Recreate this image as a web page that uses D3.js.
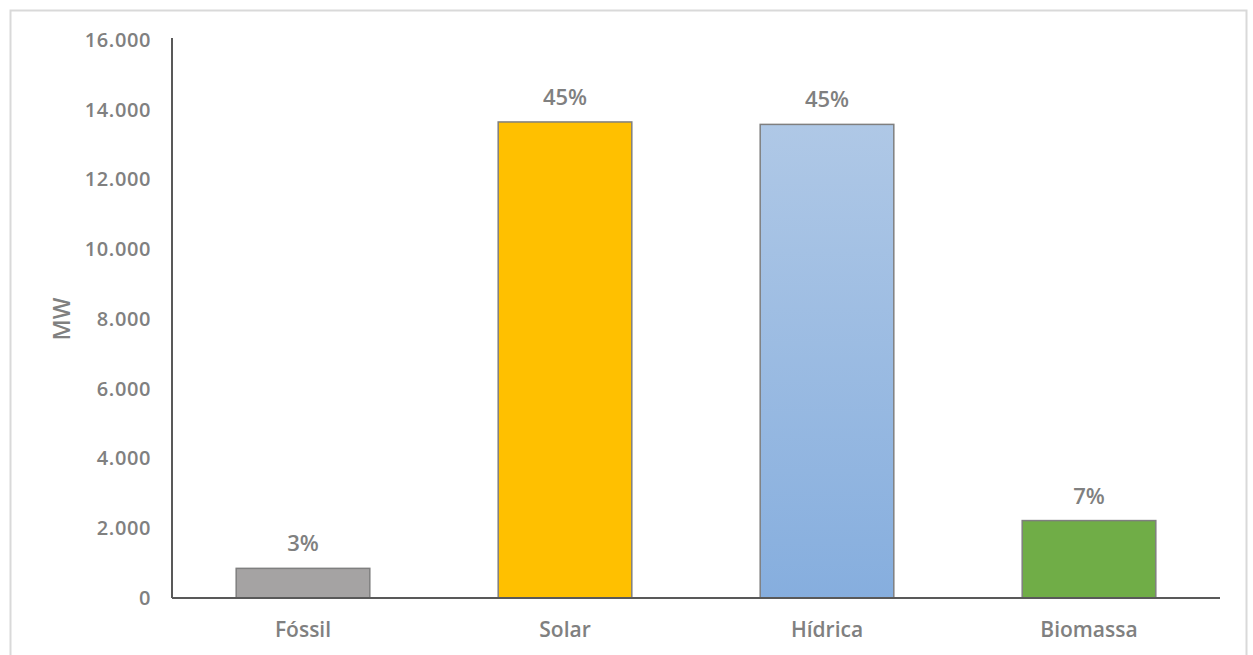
<!DOCTYPE html>
<html>
<head>
<meta charset="utf-8">
<script src="https://cdn.jsdelivr.net/npm/d3@7"></script>
<style>
  html, body { margin: 0; padding: 0; background: #fff; }
  svg { display: block; }
  text { font-family: "Open Sans", "Noto Sans", sans-serif; }
</style>
</head>
<body>
<svg id="chart" width="1253" height="655"></svg>
<script>
const categories = ["Fóssil", "Solar", "Hídrica", "Biomassa"];
const values = [850, 13650, 13580, 2220];
const shareLabels = ["3%", "45%", "45%", "7%"];
const yTicks = [0, 2000, 4000, 6000, 8000, 10000, 12000, 14000, 16000];
const yTickLabels = ["0", "2.000", "4.000", "6.000", "8.000", "10.000", "12.000", "14.000", "16.000"];
const yTitle = "MW";

const barColors = ["#a5a3a3", "#ffc000", "url(#hGrad)", "#70ad47"];

const svg = d3.select("#chart");
const W = 1253, H = 655;
const m = { left: 172, right: 33, top: 40, bottom: 57 };

// outer frame
svg.append("rect")
  .attr("x", 10.5).attr("y", 10.5)
  .attr("width", 1236).attr("height", 680)
  .attr("fill", "#fff").attr("stroke", "#d9d9d9").attr("stroke-width", 2);

const defs = svg.append("defs");
const g1 = defs.append("linearGradient").attr("id", "hGrad")
  .attr("x1", 0).attr("y1", 0).attr("x2", 0).attr("y2", 1);
g1.append("stop").attr("offset", "0%").attr("stop-color", "#afc8e6");
g1.append("stop").attr("offset", "100%").attr("stop-color", "#86aede");

const x = d3.scaleBand()
  .domain(categories)
  .range([m.left, W - m.right])
  .paddingInner(0.49)
  .paddingOuter(0.245);

const y = d3.scaleLinear()
  .domain([0, 16000])
  .range([H - m.bottom, m.top]);

// bars
svg.append("g").selectAll("rect")
  .data(categories)
  .join("rect")
  .attr("x", d => x(d))
  .attr("y", (d, i) => y(values[i]))
  .attr("width", x.bandwidth())
  .attr("height", (d, i) => y(0) - y(values[i]))
  .attr("fill", (d, i) => barColors[i])
  .attr("stroke", "#7f7f7f")
  .attr("stroke-width", 1.5);

// value labels
svg.append("g").selectAll("text")
  .data(categories)
  .join("text")
  .attr("x", d => x(d) + x.bandwidth() / 2)
  .attr("y", (d, i) => y(values[i]) - 17)
  .attr("text-anchor", "middle")
  .attr("font-size", 22)
  .attr("font-weight", 600)
  .attr("fill", "#808080")
  .text((d, i) => shareLabels[i]);

// y axis
const yAxis = d3.axisLeft(y)
  .tickValues(yTicks)
  .tickFormat((d, i) => yTickLabels[i])
  .tickSize(0)
  .tickPadding(21);
const gy = svg.append("g").attr("transform", `translate(${m.left},0)`).call(yAxis);
gy.select(".domain").attr("stroke", "#595959").attr("stroke-width", 2)
  .attr("d", `M0,${y(16000) - 2}V${y(0)}`);
gy.selectAll("text")
  .attr("font-family", "'Open Sans', sans-serif")
  .attr("font-size", 20)
  .attr("font-weight", 600)
  .attr("letter-spacing", 0.6)
  .attr("fill", "#808080");

// x axis
const xAxis = d3.axisBottom(x).tickSize(0).tickPadding(24);
const gx = svg.append("g").attr("transform", `translate(0,${y(0)})`).call(xAxis);
gx.select(".domain").attr("stroke", "#595959").attr("stroke-width", 2)
  .attr("d", `M${m.left},0H${W - m.right}`);
gx.selectAll("text")
  .attr("font-family", "'Open Sans', sans-serif")
  .attr("font-size", 21)
  .attr("font-weight", 600)
  .attr("fill", "#808080");

// y title
svg.append("text")
  .attr("transform", `translate(70,${(y(0) + y(16000)) / 2}) rotate(-90)`)
  .attr("text-anchor", "middle")
  .attr("font-size", 23)
  .attr("font-weight", 600)
  .attr("fill", "#808080")
  .text(yTitle);
</script>
</body>
</html>
